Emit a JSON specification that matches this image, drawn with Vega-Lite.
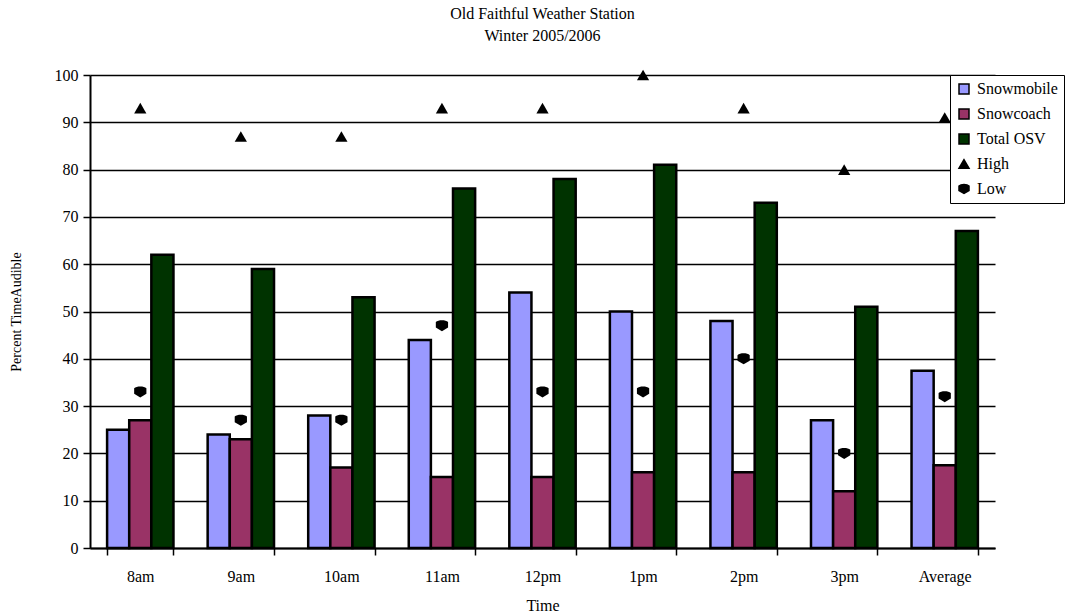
{
  "$schema": "https://vega.github.io/schema/vega-lite/v6.json",
  "width": 905,
  "height": 473,
  "autosize": {"type": "none"},
  "padding": {"left": 90, "top": 75, "right": 91, "bottom": 67},
  "background": "white",
  "title": {
    "text": ["Old Faithful Weather Station", "Winter 2005/2006"],
    "font": "Liberation Serif",
    "fontSize": 16,
    "fontWeight": "normal",
    "lineHeight": 22,
    "color": "black",
    "anchor": "middle",
    "frame": "group",
    "offset": 23
  },
  "config": {
    "view": {"stroke": null},
    "font": "Liberation Serif",
    "axis": {
      "labelFont": "Liberation Serif",
      "titleFont": "Liberation Serif",
      "labelColor": "black",
      "titleColor": "black",
      "domainColor": "black",
      "tickColor": "black",
      "gridColor": "black",
      "titleFontWeight": "normal"
    }
  },
  "data": {
    "values": [
      {"time": "8am", "series": "Snowmobile", "value": 25},
      {"time": "8am", "series": "Snowcoach", "value": 27},
      {"time": "8am", "series": "Total OSV", "value": 62},
      {"time": "8am", "series": "High", "value": 93},
      {"time": "8am", "series": "Low", "value": 33},
      {"time": "9am", "series": "Snowmobile", "value": 24},
      {"time": "9am", "series": "Snowcoach", "value": 23},
      {"time": "9am", "series": "Total OSV", "value": 59},
      {"time": "9am", "series": "High", "value": 87},
      {"time": "9am", "series": "Low", "value": 27},
      {"time": "10am", "series": "Snowmobile", "value": 28},
      {"time": "10am", "series": "Snowcoach", "value": 17},
      {"time": "10am", "series": "Total OSV", "value": 53},
      {"time": "10am", "series": "High", "value": 87},
      {"time": "10am", "series": "Low", "value": 27},
      {"time": "11am", "series": "Snowmobile", "value": 44},
      {"time": "11am", "series": "Snowcoach", "value": 15},
      {"time": "11am", "series": "Total OSV", "value": 76},
      {"time": "11am", "series": "High", "value": 93},
      {"time": "11am", "series": "Low", "value": 47},
      {"time": "12pm", "series": "Snowmobile", "value": 54},
      {"time": "12pm", "series": "Snowcoach", "value": 15},
      {"time": "12pm", "series": "Total OSV", "value": 78},
      {"time": "12pm", "series": "High", "value": 93},
      {"time": "12pm", "series": "Low", "value": 33},
      {"time": "1pm", "series": "Snowmobile", "value": 50},
      {"time": "1pm", "series": "Snowcoach", "value": 16},
      {"time": "1pm", "series": "Total OSV", "value": 81},
      {"time": "1pm", "series": "High", "value": 100},
      {"time": "1pm", "series": "Low", "value": 33},
      {"time": "2pm", "series": "Snowmobile", "value": 48},
      {"time": "2pm", "series": "Snowcoach", "value": 16},
      {"time": "2pm", "series": "Total OSV", "value": 73},
      {"time": "2pm", "series": "High", "value": 93},
      {"time": "2pm", "series": "Low", "value": 40},
      {"time": "3pm", "series": "Snowmobile", "value": 27},
      {"time": "3pm", "series": "Snowcoach", "value": 12},
      {"time": "3pm", "series": "Total OSV", "value": 51},
      {"time": "3pm", "series": "High", "value": 80},
      {"time": "3pm", "series": "Low", "value": 20},
      {"time": "Average", "series": "Snowmobile", "value": 37.5},
      {"time": "Average", "series": "Snowcoach", "value": 17.5},
      {"time": "Average", "series": "Total OSV", "value": 67},
      {"time": "Average", "series": "High", "value": 91},
      {"time": "Average", "series": "Low", "value": 32}
    ]
  },
  "encoding": {
    "x": {
      "field": "time",
      "type": "nominal",
      "sort": ["8am", "9am", "10am", "11am", "12pm", "1pm", "2pm", "3pm", "Average"],
      "scale": {"paddingInner": 0.34, "paddingOuter": 0.17},
      "axis": {
        "title": "Time",
        "labelAngle": 0,
        "labelFontSize": 16,
        "titleFontSize": 16,
        "tickSize": 7,
        "tickWidth": 1.5,
        "domainWidth": 2,
        "tickBand": "extent",
        "labelPadding": 13,
        "titlePadding": 13,
        "grid": false
      }
    },
    "y": {
      "field": "value",
      "type": "quantitative",
      "scale": {"domain": [0, 100], "nice": false},
      "axis": {
        "title": "Percent TimeAudible",
        "values": [0, 10, 20, 30, 40, 50, 60, 70, 80, 90, 100],
        "labelFontSize": 16,
        "titleFontSize": 14,
        "tickSize": 7,
        "tickWidth": 1.5,
        "domainWidth": 2,
        "gridWidth": 1.5,
        "labelPadding": 5,
        "titlePadding": 31
      }
    },
    "color": {
      "field": "series",
      "type": "nominal",
      "scale": {
        "domain": ["Snowmobile", "Snowcoach", "Total OSV", "High", "Low"],
        "range": ["#9999ff", "#993366", "#003300", "#000000", "#000000"]
      },
      "legend": {
        "title": null,
        "orient": "none",
        "legendX": 860,
        "legendY": 0,
        "direction": "vertical",
        "fillColor": "white",
        "strokeColor": "black",
        "padding": 6,
        "labelFont": "Liberation Serif",
        "labelFontSize": 16,
        "labelColor": "black",
        "symbolSize": 100,
        "rowPadding": 9,
        "labelOffset": 5,
        "symbolStrokeColor": "black",
        "symbolStrokeWidth": 1.5
      }
    }
  },
  "layer": [
    {
      "transform": [{"filter": {"field": "series", "oneOf": ["Snowmobile", "Snowcoach", "Total OSV"]}}],
      "mark": {"type": "bar", "stroke": "black", "strokeWidth": 2.5},
      "encoding": {
        "xOffset": {"field": "series", "type": "nominal", "sort": ["Snowmobile", "Snowcoach", "Total OSV"]}
      }
    },
    {
      "transform": [{"filter": {"field": "series", "oneOf": ["High", "Low"]}}],
      "mark": {"type": "point", "filled": true, "size": 150, "opacity": 1},
      "encoding": {
        "shape": {
          "field": "series",
          "type": "nominal",
          "scale": {
            "domain": ["Snowmobile", "Snowcoach", "Total OSV", "High", "Low"],
            "range": ["square", "square", "square", "triangle-up", "M-1,-0.6C-0.6,-1,0.6,-1,1,-0.6L1,0.3L0,0.9L-1,0.3Z"]
          },
          "legend": {
            "title": null,
            "orient": "none",
            "legendX": 860,
            "legendY": 0
          }
        }
      }
    }
  ]
}
